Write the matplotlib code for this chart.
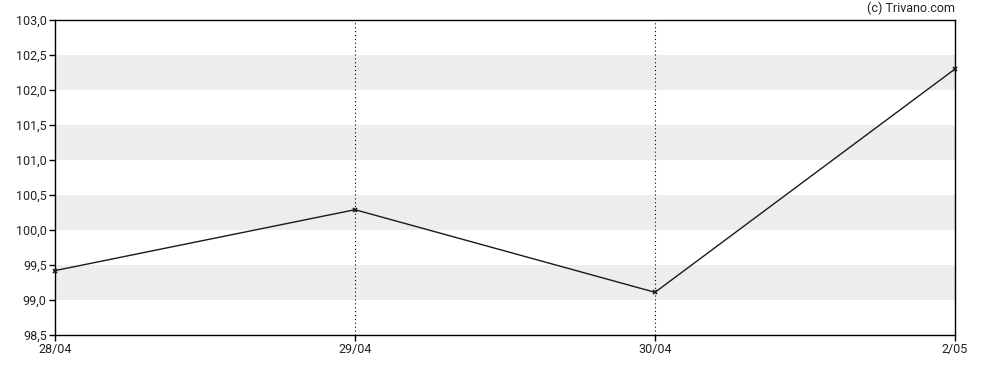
import matplotlib
matplotlib.use("Agg")
import matplotlib.pyplot as plt
from matplotlib.ticker import FuncFormatter

plt.rcParams['font.family'] = ['Roboto', 'DejaVu Sans']

dates = ["28/04", "29/04", "30/04", "2/05"]
values = [99.42, 100.29, 99.11, 102.30]
yticks = [98.5, 99.0, 99.5, 100.0, 100.5, 101.0, 101.5, 102.0, 102.5, 103.0]
bands = [(99.0, 99.5), (100.0, 100.5), (101.0, 101.5), (102.0, 102.5)]

fig = plt.figure(figsize=(9.88, 3.70), dpi=100)
ax = fig.add_axes([55/988, 1-335/370, 900/988, 315/370])

x = list(range(len(dates)))
for lo, hi in bands:
    ax.axhspan(lo, hi, color='#ededed', lw=0, zorder=0)
for xi in x[1:]:
    ax.axvline(xi, color='black', lw=0.8, ls=(0, (1, 2.5)), zorder=1)

ax.plot(x, values, color='#1a1a1a', lw=1.0, marker='x', ms=3.5, mew=1.2, zorder=3, clip_on=False)

ax.set_xlim(0, len(dates)-1)
ax.set_ylim(98.5, 103.0)
ax.set_xticks(x)
ax.set_xticklabels(dates)
ax.set_yticks(yticks)
ax.yaxis.set_major_formatter(FuncFormatter(lambda v, p: f"{v:.1f}".replace('.', ',')))
ax.tick_params(axis='both', labelsize=9, length=4, width=1, color='black', pad=2, labelcolor='#222222')
for s in ax.spines.values():
    s.set_linewidth(1)
    s.set_color('black')

fig.text(955/988, 1-8/370, "(c) Trivano.com", ha='right', va='center', fontsize=9, color='#222222')

fig.savefig("out.png", dpi=100)
